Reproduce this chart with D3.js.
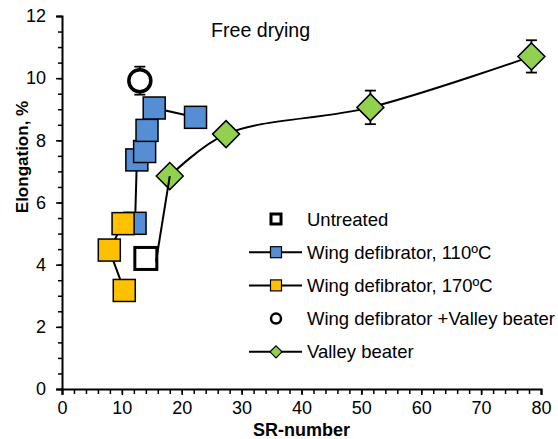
<!DOCTYPE html>
<html>
<head>
<meta charset="utf-8">
<script src="https://cdn.jsdelivr.net/npm/d3@7"></script>
<style>
  body { margin: 0; background: #fff; }
  text { font-family: "Liberation Sans", Arial, sans-serif; fill: #000; }
</style>
</head>
<body>
<svg id="chart" width="558" height="439"></svg>
<script>
// values
var untreatedX = [14.0];
var untreatedY = [4.2];

var wing110X = [12.2, 12.5, 13.8, 14.2, 15.4, 22.3];
var wing110Y = [5.33, 7.37, 7.64, 8.32, 9.04, 8.74];

var wing170X = [10.2, 7.9, 10.4];
var wing170Y = [5.32, 4.47, 3.17];

var wingValleyX = [13.0];
var wingValleyY = [9.92];
var wingValleyErr = [0.45];

// first point has no marker (line starts at the untreated square)
var valleyX = [15.7, 18.0, 27.4, 51.5, 78.4];
var valleyY = [4.1, 6.85, 8.2, 9.06, 10.7];
var valleyErr = [0, 0, 0, 0.54, 0.52];
var valleyMarker = [false, true, true, true, true];

var xTicks = [0, 10, 20, 30, 40, 50, 60, 70, 80];
var yTicks = [0, 2, 4, 6, 8, 10, 12];

var legendLabels = ["Untreated", "Wing defibrator, 110\u00baC", "Wing defibrator, 170\u00baC",
  "Wing defibrator +Valley beater", "Valley beater"];

var blue = "#558ed5", yellow = "#ffc000", green = "#92d050";

var svg = d3.select("#chart");
var margin = {left: 62, right: 17, top: 16, bottom: 50};
var width = 558 - margin.left - margin.right;
var height = 439 - margin.top - margin.bottom;

var x = d3.scaleLinear().domain([0, 80]).range([0, width]);
var y = d3.scaleLinear().domain([0, 12]).range([height, 0]);

var g = svg.append("g").attr("transform", "translate(" + margin.left + "," + margin.top + ")");

// axes
var xMinor = d3.range(0, 80.1, 2);
var yMinor = d3.range(0, 12.1, 0.5);

g.append("g")
  .attr("transform", "translate(0," + height + ")")
  .call(d3.axisBottom(x).tickValues(xMinor).tickSize(5).tickFormat(""))
  .call(function(s) { s.select(".domain").remove(); });
g.append("g")
  .attr("transform", "translate(0," + height + ")")
  .call(d3.axisBottom(x).tickValues(xTicks).tickSize(6).tickPadding(6).tickFormat(d3.format("d")))
  .call(function(s) { s.select(".domain").attr("stroke-width", 2); });

g.append("g")
  .call(d3.axisLeft(y).tickValues(yMinor).tickSize(4).tickFormat(""))
  .call(function(s) { s.select(".domain").remove(); });
g.append("g")
  .call(d3.axisLeft(y).tickValues(yTicks).tickSize(6).tickPadding(10).tickFormat(d3.format("d")))
  .call(function(s) { s.select(".domain").attr("stroke-width", 2); });

g.selectAll(".tick line").attr("stroke", "#000").attr("stroke-width", 1.5);
g.selectAll(".tick text").style("font-size", "18px").style("font-family", "Liberation Sans, Arial, sans-serif");

svg.append("text")
  .attr("x", margin.left + width / 2)
  .attr("y", 436)
  .attr("text-anchor", "middle")
  .style("font-size", "18px")
  .style("font-weight", "bold")
  .text("SR-number");

svg.append("text")
  .attr("transform", "translate(28,157) rotate(-90)")
  .attr("text-anchor", "middle")
  .style("font-size", "17px")
  .style("font-weight", "bold")
  .text("Elongation, %");

svg.append("text")
  .attr("x", 211)
  .attr("y", 37)
  .style("font-size", "19.6px")
  .text("Free drying");

var line = d3.line().x(function(d) { return x(d[0]); }).y(function(d) { return y(d[1]); });
var smooth = d3.line().curve(d3.curveCatmullRom.alpha(0.5))
  .x(function(d) { return x(d[0]); }).y(function(d) { return y(d[1]); });

var sq = 22;
function squares(xs, ys, fill, stroke, sw) {
  g.append("g").selectAll("rect")
    .data(d3.zip(xs, ys))
    .enter().append("rect")
    .attr("x", function(d) { return x(d[0]) - sq / 2; })
    .attr("y", function(d) { return y(d[1]) - sq / 2; })
    .attr("width", sq)
    .attr("height", sq)
    .attr("fill", fill)
    .attr("stroke", stroke)
    .attr("stroke-width", sw);
}

function errorBars(xs, ys, errs) {
  var data = d3.zip(xs, ys, errs).filter(function(d) { return d[2] > 0; });
  var eb = g.append("g").attr("stroke", "#000").attr("stroke-width", 1.8);
  eb.selectAll(".v").data(data).enter().append("line")
    .attr("x1", function(d) { return x(d[0]); })
    .attr("x2", function(d) { return x(d[0]); })
    .attr("y1", function(d) { return y(d[1] - d[2]); })
    .attr("y2", function(d) { return y(d[1] + d[2]); });
  [-1, 1].forEach(function(s) {
    eb.selectAll(".c" + s).data(data).enter().append("line")
      .attr("x1", function(d) { return x(d[0]) - 5.5; })
      .attr("x2", function(d) { return x(d[0]) + 5.5; })
      .attr("y1", function(d) { return y(d[1] + s * d[2]); })
      .attr("y2", function(d) { return y(d[1] + s * d[2]); });
  });
}

// untreated
squares(untreatedX, untreatedY, "#fff", "#000", 3);

// wing defibrator 110
g.append("path").datum(d3.zip(wing110X, wing110Y))
  .attr("d", line).attr("fill", "none").attr("stroke", "#000").attr("stroke-width", 2);
squares(wing110X, wing110Y, blue, "#000", 1.5);

// wing defibrator 170
g.append("path").datum(d3.zip(wing170X, wing170Y))
  .attr("d", line).attr("fill", "none").attr("stroke", "#000").attr("stroke-width", 2);
squares(wing170X, wing170Y, yellow, "#000", 1.5);

// wing defibrator + valley beater
errorBars(wingValleyX, wingValleyY, wingValleyErr);
g.append("g").selectAll("circle")
  .data(d3.zip(wingValleyX, wingValleyY))
  .enter().append("circle")
  .attr("cx", function(d) { return x(d[0]); })
  .attr("cy", function(d) { return y(d[1]); })
  .attr("r", 11)
  .attr("fill", "#fff")
  .attr("stroke", "#000")
  .attr("stroke-width", 3.5);

// valley beater: smooth part under the markers, first straight piece on top
var valley = d3.zip(valleyX, valleyY);
g.append("path").datum(valley.slice(1))
  .attr("d", smooth).attr("fill", "none").attr("stroke", "#000").attr("stroke-width", 2);
errorBars(valleyX, valleyY, valleyErr);
var dia = 13.5;
g.append("g").selectAll("path")
  .data(valley.filter(function(d, i) { return valleyMarker[i]; }))
  .enter().append("path")
  .attr("d", function(d) {
    var cx = x(d[0]), cy = y(d[1]);
    return "M" + cx + "," + (cy - dia) + "L" + (cx + dia) + "," + cy +
      "L" + cx + "," + (cy + dia) + "L" + (cx - dia) + "," + cy + "Z";
  })
  .attr("fill", green)
  .attr("stroke", "#000")
  .attr("stroke-width", 1.5);
g.append("path").datum(valley.slice(0, 2))
  .attr("d", line).attr("fill", "none").attr("stroke", "#000").attr("stroke-width", 2);

// legend
var legend = svg.append("g").attr("transform", "translate(0,219)");
var rowH = 33.2;
var lx = 276;
legendLabels.forEach(function(label, i) {
  var row = legend.append("g").attr("transform", "translate(0," + i * rowH + ")");
  if (i > 0 && i !== 3) {
    row.append("line").attr("x1", 249).attr("x2", 302).attr("y1", 0).attr("y2", 0)
      .attr("stroke", "#000").attr("stroke-width", 2);
  }
  if (i === 0) {
    row.append("rect").attr("x", lx - 5).attr("y", -5).attr("width", 10).attr("height", 10)
      .attr("fill", "#fff").attr("stroke", "#000").attr("stroke-width", 3);
  } else if (i === 1 || i === 2) {
    row.append("rect").attr("x", lx - 5.5).attr("y", -5.5).attr("width", 11).attr("height", 11)
      .attr("fill", i === 1 ? blue : yellow).attr("stroke", "#000").attr("stroke-width", 1.2);
  } else if (i === 3) {
    row.append("circle").attr("cx", lx).attr("cy", 0).attr("r", 5)
      .attr("fill", "#fff").attr("stroke", "#000").attr("stroke-width", 2.5);
  } else {
    row.append("path")
      .attr("d", "M" + lx + ",-6L" + (lx + 6) + ",0L" + lx + ",6L" + (lx - 6) + ",0Z")
      .attr("fill", green).attr("stroke", "#000").attr("stroke-width", 1.2);
  }
  row.append("text").attr("x", 307).attr("y", 6.5)
    .style("font-size", "18.5px")
    .text(label);
});
</script>
</body>
</html>
